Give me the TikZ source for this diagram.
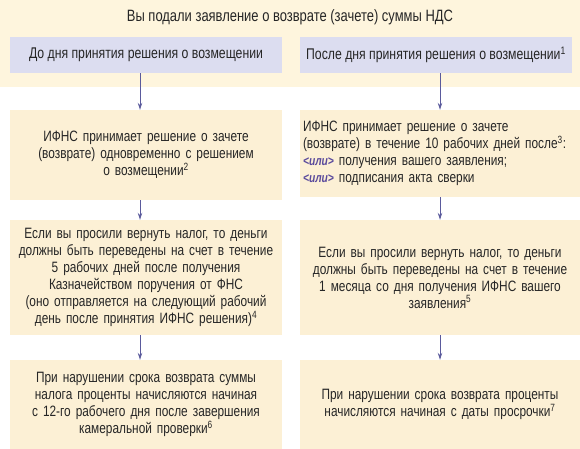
\documentclass[tikz,border=0pt]{standalone}
\usepackage{fontspec}
\setmainfont[FakeStretch=0.79]{Liberation Sans}
\usetikzlibrary{arrows.meta}
\definecolor{band}{HTML}{FEF5DD}
\definecolor{boxc}{HTML}{FCF0D5}
\definecolor{hdr}{HTML}{DCDDF0}
\definecolor{arr}{HTML}{5A5A9C}
\definecolor{ili}{HTML}{5A4A9C}
\begin{document}
\begin{tikzpicture}[x=1pt,y=-1pt,
  every node/.style={font=\fontsize{15}{17}\selectfont, text=black!85, inner sep=0pt},
  titletext/.style={font=\fontsize{16.4}{18}\selectfont},
  hdrbox/.style={fill=hdr, minimum width=272pt, minimum height=36pt, font=\fontsize{15.5}{18}\selectfont},
  ybox/.style={fill=boxc, minimum height=#1, align=center},
  conn/.style={draw=arr, line width=0.8pt, -{Stealth[length=7pt,width=4.5pt]}}]
\useasboundingbox (0,0) rectangle (580,449);
\fill[band] (0,0) rectangle (580,87);
\node[titletext] (title) at (290,17) {Вы подали заявление о возврате (зачете) суммы НДС};
\node[hdrbox] (hl) at (146,55) {До дня принятия решения о возмещении};
\node[hdrbox] (hr) at (436,55) {После дня принятия решения о возмещении\textsuperscript{1}};

\node[ybox=90pt, minimum width=272pt, text width=266pt] (l2) at (146,155)
  {ИФНС принимает решение о зачете\\(возврате) одновременно с решением\\о возмещении\textsuperscript{2}};
\node[ybox=87pt, minimum width=280pt, text width=274pt, align=left] (r2) at (440,153.5)
  {ИФНС принимает решение о зачете\\(возврате) в течение 10 рабочих дней после\textsuperscript{3}:\\{\color{ili}\bfseries\itshape\fontsize{13}{17}\selectfont<или>} получения вашего заявления;\\{\color{ili}\bfseries\itshape\fontsize{13}{17}\selectfont<или>} подписания акта сверки};

\node[ybox=115pt, minimum width=272pt, text width=270pt] (l3) at (146,277.5)
  {Если вы просили вернуть налог, то деньги\\должны быть переведены на счет в течение\\5 рабочих дней после получения\\Казначейством поручения от ФНС\\(оно отправляется на следующий рабочий\\день после принятия ИФНС решения)\textsuperscript{4}};
\node[ybox=115pt, minimum width=280pt, text width=276pt] (r3) at (440,277.5)
  {Если вы просили вернуть налог, то деньги\\должны быть переведены на счет в течение\\1 месяца со дня получения ИФНС вашего\\заявления\textsuperscript{5}};

\node[ybox=89pt, minimum width=272pt, text width=266pt] (l4) at (146,404.5)
  {При нарушении срока возврата суммы\\налога проценты начисляются начиная\\с 12-го рабочего дня после завершения\\камеральной проверки\textsuperscript{6}};
\node[ybox=89pt, minimum width=280pt, text width=276pt] (r4) at (440,404.5)
  {При нарушении срока возврата проценты\\начисляются начиная с даты просрочки\textsuperscript{7}};

\coordinate (axl) at (140,0);
\coordinate (axr) at (440,0);
\draw[conn] (hl.south -| axl) -- (l2.north -| axl);
\draw[conn] (hr.south -| axr) -- (r2.north -| axr);
\draw[conn] (l2.south -| axl) -- (l3.north -| axl);
\draw[conn] (r2.south -| axr) -- (r3.north -| axr);
\draw[conn] (l3.south -| axl) -- (l4.north -| axl);
\draw[conn] (r3.south -| axr) -- (r4.north -| axr);
\end{tikzpicture}
\end{document}
